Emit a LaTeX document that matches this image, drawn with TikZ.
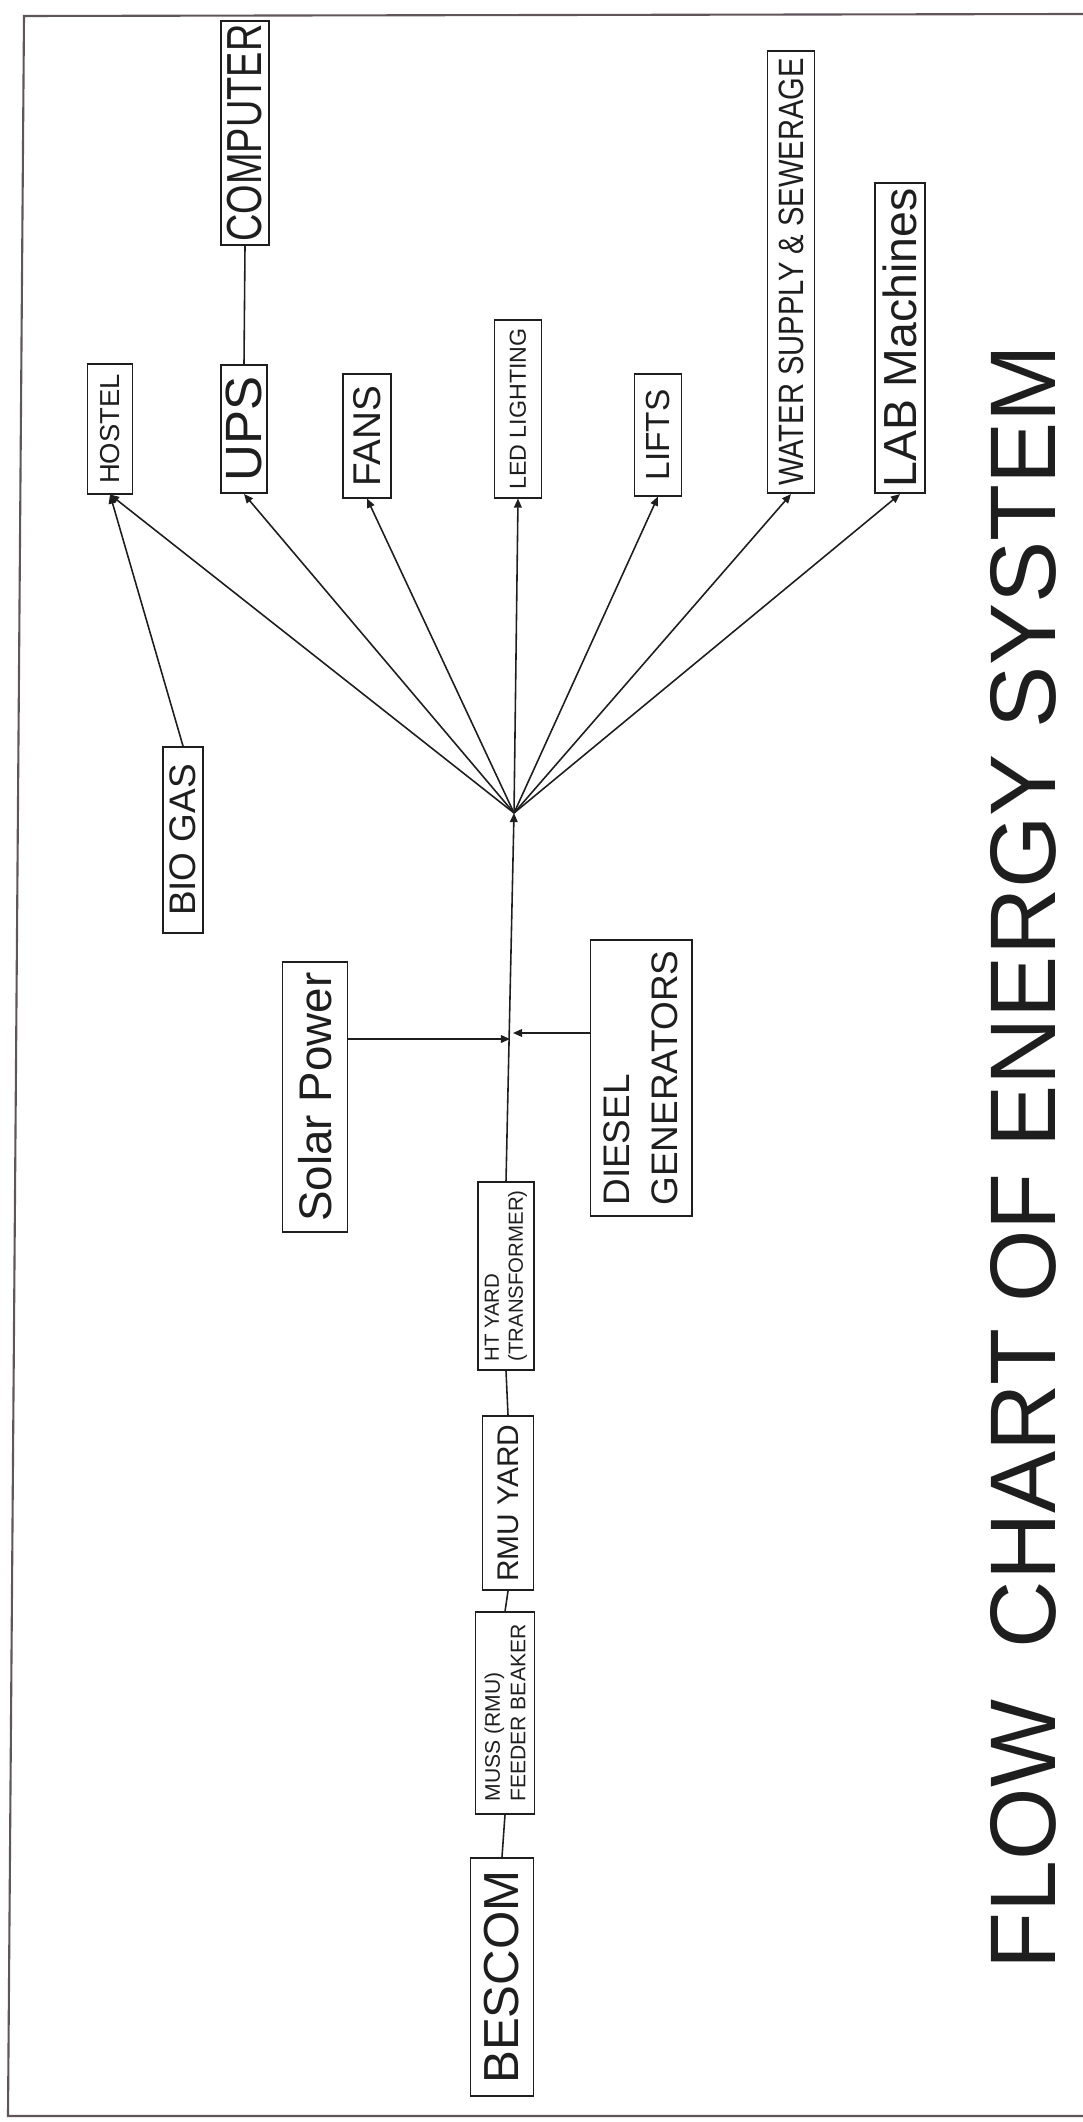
\documentclass[tikz,border=0pt]{standalone}
\usepackage{fontspec}
\setmainfont{Liberation Sans}
\usepackage{xcolor}
\definecolor{inkblack}{RGB}{30, 30, 30}
\definecolor{framegray}{RGB}{95, 85, 90}
\usepackage{tikz}
\usetikzlibrary{arrows.meta, calc}

\newcommand{\fsz}[2]{\fontsize{#1}{#2}\selectfont}

\begin{document}
\begin{tikzpicture}[x=0.01cm, y=-0.01cm, >={Triangle[length=2.6pt,width=2.2pt]},
    box/.style={draw=inkblack, line width=0.55pt, rotate=90, inner sep=0pt, align=center, text=inkblack},
    feed/.style={->, line width=0.45pt, draw=inkblack},
    wire/.style={line width=0.45pt, draw=inkblack}]
    \useasboundingbox (0,0) rectangle (1083,2122);
    % page frame
    \draw[framegray, line width=0.6pt] (1083,14) -- (24,16) -- (8,2116) -- (1083,2116);

    % supply chain
    \node[box, minimum width=2.38cm, minimum height=0.63cm, font=\fsz{14}{16}] (bescom) at (502,1977) {BESCOM};
    \node[box, minimum width=2.01cm, minimum height=0.59cm, font=\fsz{6}{7.2}, align=left] (muss) at (505,1713) {MUSS (RMU)\\FEEDER BEAKER};
    \node[box, minimum width=1.74cm, minimum height=0.51cm, font=\fsz{8.5}{10}] (rmu) at (508,1503) {RMU YARD};
    \node[box, minimum width=1.87cm, minimum height=0.56cm, font=\fsz{5.8}{6.8}, align=left] (ht) at (506,1276) {HT YARD\\(TRANSFORMER)};
    \node[box, minimum width=2.70cm, minimum height=0.65cm, font=\fsz{13}{15}] (solar) at (315,1097) {Solar Power};
    \node[box, minimum width=2.76cm, minimum height=1.01cm, font=\fsz{10.5}{13.8}, align=left] (diesel) at (641,1078) {DIESEL\\GENERATORS};
    \node[box, minimum width=1.86cm, minimum height=0.40cm, font=\fsz{10.5}{12}] (biogas) at (183,840) {BIO GAS};
    \coordinate (hub) at (514,813);
    \coordinate (sj) at (510,1039);
    \coordinate (dj) at (513,1033);

    % loads
    \node[box, minimum width=1.29cm, minimum height=0.45cm, font=\fsz{7.8}{9}] (hostel) at (110,429) {HOSTEL};
    \node[box, minimum width=1.28cm, minimum height=0.46cm, font=\fsz{14.5}{17}] (ups) at (244,429) {UPS};
    \node[box, minimum width=2.24cm, minimum height=0.48cm, font=\fsz{14}{16}] (computer) at (245,133) {\scalebox{0.77}[1]{COMPUTER}};
    \node[box, minimum width=1.23cm, minimum height=0.48cm, font=\fsz{11}{13}] (fans) at (367,436) {FANS};
    \node[box, minimum width=1.77cm, minimum height=0.47cm, font=\fsz{6.6}{8}] (led) at (518,409) {LED LIGHTING};
    \node[box, minimum width=1.21cm, minimum height=0.47cm, font=\fsz{9.5}{11}] (lifts) at (658,435) {LIFTS};
    \node[box, minimum width=4.42cm, minimum height=0.47cm, font=\fsz{10}{12}] (water) at (791,272) {\scalebox{0.83}[1]{WATER SUPPLY \& SEWERAGE}};
    \node[box, minimum width=3.10cm, minimum height=0.50cm, font=\fsz{13.2}{15}] (lab) at (900,338) {LAB Machines};

    \node[rotate=90, inner sep=0pt, font=\fsz{26.5}{30}, text=inkblack] (title) at (1023,1157) {FLOW\ \ CHART OF ENERGY SYSTEM};

    % connectors
    \draw[wire] (bescom.east) -- (muss.west);
    \draw[wire] (muss.east) -- (rmu.west);
    \draw[wire] (rmu.east) -- (ht.west);
    \draw[feed] (ht.east) -- (hub);
    \draw[feed] (sj -| solar.south) -- (sj);
    \draw[feed] (dj -| diesel.north) -- (dj);
    \foreach \load in {hostel, ups, fans, led, lifts, water, lab}
        \draw[feed] (hub) -- (\load.west);
    \draw[feed] (biogas.east) -- (hostel.west);
    \draw[wire] (ups.east) -- (computer.west);
\end{tikzpicture}
\end{document}
